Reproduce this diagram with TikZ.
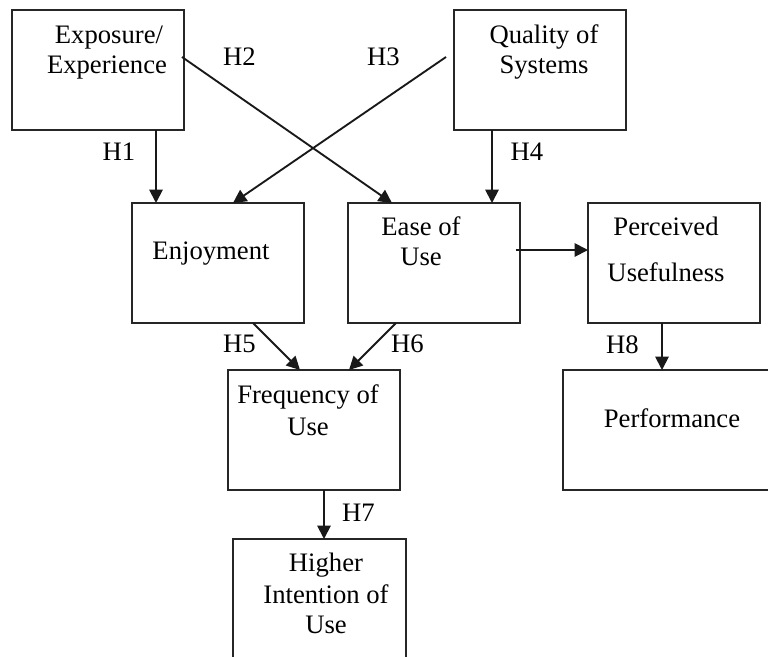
\documentclass[tikz,border=0pt]{standalone}
\usepackage{fontspec}
\setmainfont{Liberation Serif}
\usetikzlibrary{arrows.meta,calc,fit}
\begin{document}
\begin{tikzpicture}[x=0.75pt,y=-0.75pt,
  box/.style={draw=black!85, line width=1.5pt, inner sep=0pt, outer sep=0pt, rectangle},
  txt/.style={anchor=base, inner sep=0pt, font=\fontsize{20}{24}\selectfont},
  arr/.style={draw=black!90, line width=1.4pt, -{Triangle[length=10pt,width=10pt]}}]
\useasboundingbox (0,0) rectangle (768,657);
\clip (0,0) rectangle (768,657);
\fill[white] (0,0) rectangle (768,657);

% boxes
\node[box, fit={(12,9.5) (184,130)}] (expo) {};
\node[box, fit={(454,9.5) (626,130)}] (qual) {};
\node[box, fit={(132,203) (304,323)}] (enj) {};
\node[box, fit={(348,203) (520,323)}] (ease) {};
\node[box, fit={(588,203) (760,323)}] (perc) {};
\node[box, fit={(228,370) (400,490)}] (freq) {};
\node[box, fit={(563,370) (781,490)}] (perf) {};
\node[box, fit={(233,539) (406,680)}] (high) {};

% box texts
\node[txt] (t1a) at (109,43) {Exposure/};
\node[txt] (t1b) at (107,73) {Experience};
\node[txt] (t2a) at (544,43) {Quality of};
\node[txt] (t2b) at (544,73) {Systems};
\node[txt] (t3) at (211,259) {Enjoyment};
\node[txt] (t4a) at (421,235) {Ease of};
\node[txt] (t4b) at (421,265) {Use};
\node[txt] (t5a) at (666,235) {Perceived};
\node[txt] (t5b) at (666,281.5) {Usefulness};
\node[txt] (t6a) at (308,403) {Frequency of};
\node[txt] (t6b) at (308,435) {Use};
\node[txt] (t7) at (672,427) {Performance};
\node[txt] (t8a) at (326,571.5) {Higher};
\node[txt] (t8b) at (326,603) {Intention of};
\node[txt] (t8c) at (326,633) {Use};

% hypothesis labels
\node[txt] (h1) at (119,160) {H1};
\node[txt] (h2) at (239.5,65) {H2};
\node[txt] (h3) at (383.5,65) {H3};
\node[txt] (h4) at (527,160) {H4};
\node[txt] (h5) at (239.5,352.5) {H5};
\node[txt] (h6) at (407.5,352.5) {H6};
\node[txt] (h7) at (358.5,521.5) {H7};
\node[txt] (h8) at (622.5,353) {H8};

% connectors
\coordinate (a1) at ($(expo.south east)+(-28,0)$);
\draw[arr] (a1) -- (a1 |- enj.north);
\draw[arr] ($(expo.north east)+(-2,47.5)$) -- ($(ease.north west)+(44,0)$);
\draw[arr] ($(qual.north west)+(-8,47.5)$) -- ($(enj.north west)+(101,0)$);
\coordinate (a4) at ($(qual.south west)+(38,0)$);
\draw[arr] (a4) -- (a4 |- ease.north);
\coordinate (a9) at ($(ease.north east)+(-4,47)$);
\draw[arr] (a9) -- (a9 -| perc.west);
\draw[arr] ($(enj.south west)+(121,0)$) -- ($(freq.north west)+(72,0)$);
\draw[arr] ($(ease.south west)+(48,0)$) -- ($(freq.north west)+(121,0)$);
\coordinate (a7) at ($(freq.south west)+(96,0)$);
\draw[arr] (a7) -- (a7 |- high.north);
\coordinate (a8) at ($(perc.south west)+(74,0)$);
\draw[arr] (a8) -- (a8 |- perf.north);
\end{tikzpicture}
\end{document}
